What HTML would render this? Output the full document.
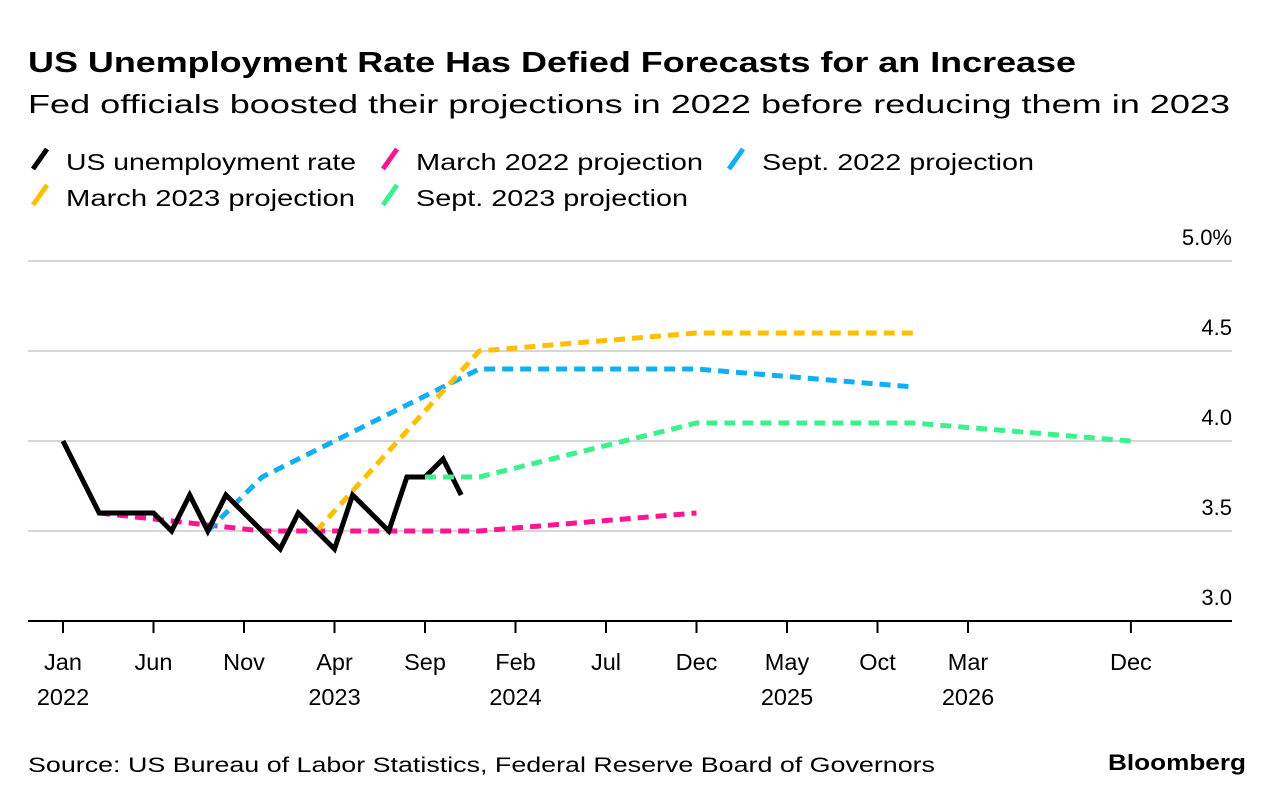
<!DOCTYPE html>
<html><head><meta charset="utf-8"><style>
body{margin:0;background:#fff;width:1286px;height:804px;overflow:hidden;font-family:"Liberation Sans",sans-serif;}
</style></head><body>
<svg width="1286" height="804" xmlns="http://www.w3.org/2000/svg" font-family="Liberation Sans, sans-serif">
<text x="28" y="72" font-size="29" font-weight="bold" fill="#000" textLength="1048" lengthAdjust="spacingAndGlyphs">US Unemployment Rate Has Defied Forecasts for an Increase</text>
<text x="28" y="113" font-size="26" fill="#000" textLength="1202" lengthAdjust="spacingAndGlyphs">Fed officials boosted their projections in 2022 before reducing them in 2023</text>
<g id="legend" font-size="23"></g>
<g id="grid"></g>
<g id="series"></g>
<g id="xaxis"></g>
<text x="28" y="772" font-size="21" fill="#000" textLength="907" lengthAdjust="spacingAndGlyphs">Source: US Bureau of Labor Statistics, Federal Reserve Board of Governors</text>
<text x="1108" y="770" font-size="22" font-weight="bold" fill="#000" textLength="138" lengthAdjust="spacingAndGlyphs">Bloomberg</text>
</svg>
<script>
const NS='http://www.w3.org/2000/svg';
const yTicks=[3.0,3.5,4.0,4.5,5.0];
const yTickLabels=['3.0','3.5','4.0','4.5','5.0%'];
const xTickMonths=[0,5,10,15,20,25,30,35,40,45,50,59];
const xTickLabels=['Jan','Jun','Nov','Apr','Sep','Feb','Jul','Dec','May','Oct','Mar','Dec'];
const xTickYears=['2022','','','2023','','2024','','','2025','','2026',''];
const unempMonths=[0,1,2,3,4,5,6,7,8,9,10,11,12,13,14,15,16,17,18,19,20,21,22];
const unempValues=[4.0,3.8,3.6,3.6,3.6,3.6,3.5,3.7,3.5,3.7,3.6,3.5,3.4,3.6,3.5,3.4,3.7,3.6,3.5,3.8,3.8,3.9,3.7];
const mar22Months=[2,11,23,35];
const mar22Values=[3.6,3.5,3.5,3.6];
const sep22Months=[8,11,23,35,47];
const sep22Values=[3.5,3.8,4.4,4.4,4.3];
const mar23Months=[14,23,35,47];
const mar23Values=[3.5,4.5,4.6,4.6];
const sep23Months=[20,23,35,47,59];
const sep23Values=[3.8,3.8,4.1,4.1,4.0];
const X=m=>63+m*18.1;
const Y=v=>621-(v-3)*180;
function el(t,a,p){const e=document.createElementNS(NS,t);for(const k in a)e.setAttribute(k,a[k]);p.appendChild(e);return e;}
const grid=document.getElementById('grid');
yTicks.forEach((v,i)=>{
  if(v>3){const l=el('line',{x1:28,x2:1232,y1:Y(v),y2:Y(v),stroke:'#d6d6d6','stroke-width':2},grid);
  
  }
  const t=el('text',{x:1232,y:Y(v)-16,'text-anchor':'end','font-size':22,fill:'#000'},grid);
  t.textContent=yTickLabels[i];
  
  
});
const xa=document.getElementById('xaxis');
const ax=el('line',{x1:28,x2:1232,y1:621,y2:621,stroke:'#000','stroke-width':2},xa);


xTickMonths.forEach((m,i)=>{
  const tk=el('line',{x1:X(m),x2:X(m),y1:621,y2:633,stroke:'#000','stroke-width':2},xa);
  
  
  const t=el('text',{x:X(m),y:670,'text-anchor':'middle','font-size':23.5,fill:'#000'},xa);
  t.textContent=xTickLabels[i];
  
  
  if(xTickYears[i]){const y=el('text',{x:X(m),y:705,'text-anchor':'middle','font-size':23.5,fill:'#000'},xa);
  y.textContent=xTickYears[i];
  
  }
});
const ser=document.getElementById('series');
function line(ms,vs,color,dash,name){
  const d=ms.map((m,i)=>(i?'L':'M')+X(m).toFixed(1)+','+Y(vs[i]).toFixed(1)).join('');
  const p=el('path',{d:d,fill:'none',stroke:color,'stroke-width':5,'stroke-dasharray':dash?'11 7':'none','stroke-linejoin':'miter','stroke-linecap':'butt'},ser);
  
  
}
line(mar22Months,mar22Values,'#ff1493',true,'march-2022-projection-line');
line(sep22Months,sep22Values,'#10aff5',true,'sept-2022-projection-line');
line(mar23Months,mar23Values,'#ffbf00',true,'march-2023-projection-line');
line(unempMonths,unempValues,'#000',false,'unemployment-rate-line');
line(sep23Months,sep23Values,'#3cf08c',true,'sept-2023-projection-line');
const lg=document.getElementById('legend');
const items=[['US unemployment rate','#000',34,170,290],['March 2022 projection','#ff1493',384,170,287],['Sept. 2022 projection','#10aff5',730,170,272],['March 2023 projection','#ffbf00',34,206,289],['Sept. 2023 projection','#3cf08c',384,206,272]];
items.forEach(it=>{
  const s=el('line',{x1:it[2]-1,y1:it[3]-1,x2:it[2]+13,y2:it[3]-21,stroke:it[1],'stroke-width':5},lg);
  
  
  const t=el('text',{x:it[2]+32,y:it[3],fill:'#000',textLength:it[4],lengthAdjust:'spacingAndGlyphs'},lg);
  t.textContent=it[0];
  
  
});
</script>
</body></html>
